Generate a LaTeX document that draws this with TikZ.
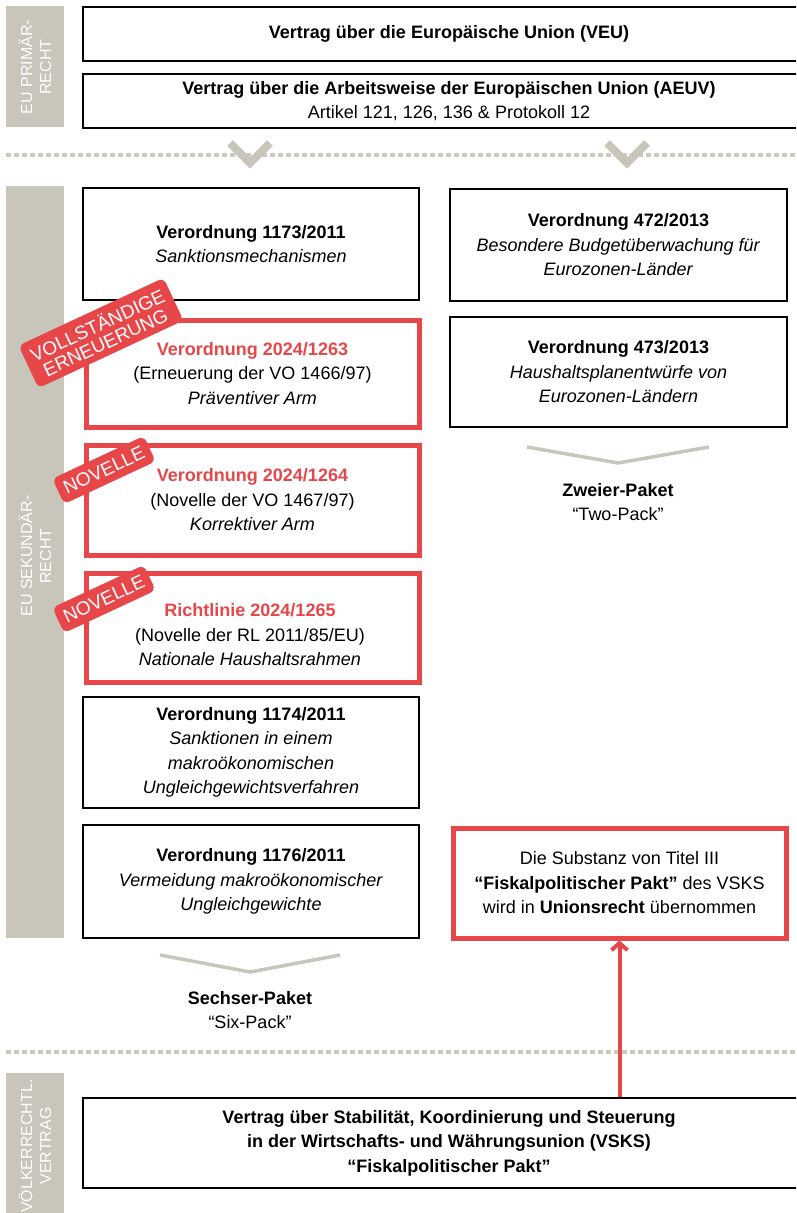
\documentclass[tikz,border=0pt]{standalone}
\usepackage{fontspec}
\setmainfont{Liberation Sans}
\usetikzlibrary{arrows.meta}
\definecolor{myred}{HTML}{E8474A}
\definecolor{sidegray}{HTML}{C8C5BA}
\definecolor{dotgray}{HTML}{CCC9BF}
\newcommand{\boxfs}{\fontsize{18}{24.5}\selectfont}
\begin{document}
\begin{tikzpicture}[x=1pt,y=-1pt,
  bbox/.style={draw=black, line width=2pt, fill=white, inner sep=0pt, align=center, font=\boxfs, anchor=north west},
  rbox/.style={draw=myred, line width=5pt, fill=white, inner sep=0pt, align=center, font=\boxfs, anchor=north west},
  txt/.style={align=center, font=\boxfs, inner sep=0pt},
  side/.style={fill=sidegray, draw=none, inner sep=0pt, anchor=north west},
  sidetxt/.style={text=white, align=center, rotate=90, font=\fontsize{16}{19}\selectfont, inner sep=0pt},
  badge/.style={fill=myred, text=white, rounded corners=6pt, rotate=25, align=center, inner sep=0pt, font=\fontsize{19}{18.6}\selectfont},
  dots/.style={draw=dotgray, line width=4pt, dash pattern=on 5pt off 3pt},
  chev/.style={draw=sidegray, line width=8pt},
  thinchev/.style={draw=sidegray, line width=3.5pt},
  redarrow/.style={draw=myred, line width=4pt, -{Straight Barb[length=7pt,width=16pt]}},
  rt/.style={text=myred, font=\boxfs\bfseries}
]
\path[use as bounding box] (0,0) rectangle (796,1213);
\clip (0,0) rectangle (796,1213);

% sidebars
\node[side, minimum width=58pt, minimum height=121pt] (s1) at (6,6) {};
\node[sidetxt] (s1t) at (35,67) {EU PRIMÄR-\\RECHT};
\node[side, minimum width=58pt, minimum height=752pt] (s2) at (6,186) {};
\node[sidetxt] (s2t) at (35,556) {EU SEKUNDÄR-\\RECHT};
\node[side, minimum width=58pt, minimum height=170pt] (s3) at (6,1073) {};
\node[sidetxt] (s3t) at (35,1146) {VÖLKERRECHTL.\\VERTRAG};

% dotted separators
\draw[dots] (6,155) -- (796,155);
\draw[dots] (6,1052) -- (796,1052);

% chevrons
\draw[chev] (230,143) -- (250,163) -- (270,143);
\draw[chev] (607,143) -- (627,163) -- (647,143);

% primary law
\node[bbox, minimum width=732pt, minimum height=54pt] (veu) at (82,6)
  {\textbf{Vertrag über die Europäische Union (VEU)}};
\node[bbox, minimum width=732pt, minimum height=54pt] (aeuv) at (82,73)
  {\textbf{Vertrag über die Arbeitsweise der Europäischen Union (AEUV)}\\Artikel 121, 126, 136 \& Protokoll 12};

% left column
\node[bbox, minimum width=336pt, minimum height=112pt] (v1173) at (82,187)
  {\textbf{Verordnung 1173/2011}\\\textit{Sanktionsmechanismen}};
\node[rbox, minimum width=333pt, minimum height=107pt] (v1263) at (83.5,317.5)
  {{\color{myred}\textbf{Verordnung 2024/1263}}\\(Erneuerung der VO 1466/97)\\\textit{Präventiver Arm}};
\node[rbox, minimum width=333pt, minimum height=110pt] (v1264) at (83.5,442.5)
  {{\color{myred}\textbf{Verordnung 2024/1264}}\\(Novelle der VO 1467/97)\\\textit{Korrektiver Arm}};
\node[rbox, minimum width=333pt, minimum height=109pt] (r1265) at (83.5,570.5) {};
\node[txt] (r1265t) at (250,635)
  {{\color{myred}\textbf{Richtlinie 2024/1265}}\\(Novelle der RL 2011/85/EU)\\\textit{Nationale Haushaltsrahmen}};
\node[bbox, minimum width=336pt, minimum height=111pt] (v1174) at (82,696)
  {\textbf{Verordnung 1174/2011}\\\textit{Sanktionen in einem}\\\textit{makroökonomischen}\\\textit{Ungleichgewichtsverfahren}};
\node[bbox, minimum width=336pt, minimum height=113pt] (v1176) at (82,824)
  {\textbf{Verordnung 1176/2011}\\\textit{Vermeidung makroökonomischer}\\\textit{Ungleichgewichte}};

% right column
\node[bbox, minimum width=337pt, minimum height=112pt] (v472) at (449,188)
  {\textbf{Verordnung 472/2013}\\\textit{Besondere Budgetüberwachung für}\\\textit{Eurozonen-Länder}};
\node[bbox, minimum width=337pt, minimum height=110pt] (v473) at (449,316)
  {\textbf{Verordnung 473/2013}\\\textit{Haushaltsplanentwürfe von}\\\textit{Eurozonen-Ländern}};
\node[rbox, minimum width=333pt, minimum height=110pt] (sub) at (450.5,825.5)
  {Die Substanz von Titel III\\\textbf{“Fiskalpolitischer Pakt”} des VSKS\\wird in \textbf{Unionsrecht} übernommen};

% package labels
\draw[thinchev] (527,447) -- (618,463) -- (709,447);
\node[txt] (two) at (618,502) {\textbf{Zweier-Paket}\\“Two-Pack”};
\draw[thinchev] (160,955) -- (250,972) -- (340,955);
\node[txt] (six) at (250,1010) {\textbf{Sechser-Paket}\\“Six-Pack”};

% international treaty
\node[bbox, minimum width=732pt, minimum height=90pt] (vsks) at (82,1097)
  {\textbf{Vertrag über Stabilität, Koordinierung und Steuerung}\\\textbf{in der Wirtschafts- und Währungsunion (VSKS)}\\\textbf{“Fiskalpolitischer Pakt”}};

\draw[redarrow] (vsks.north -| sub.south) -- (sub.south);

% badges
\node[badge, minimum width=160pt, minimum height=47pt] (bg1) at (101,333) {VOLLSTÄNDIGE\\ERNEUERUNG};
\node[badge, minimum width=101pt, minimum height=28pt] (bg2) at (104,470) {NOVELLE};
\node[badge, minimum width=101pt, minimum height=28pt] (bg3) at (104,599) {NOVELLE};
\end{tikzpicture}
\end{document}
